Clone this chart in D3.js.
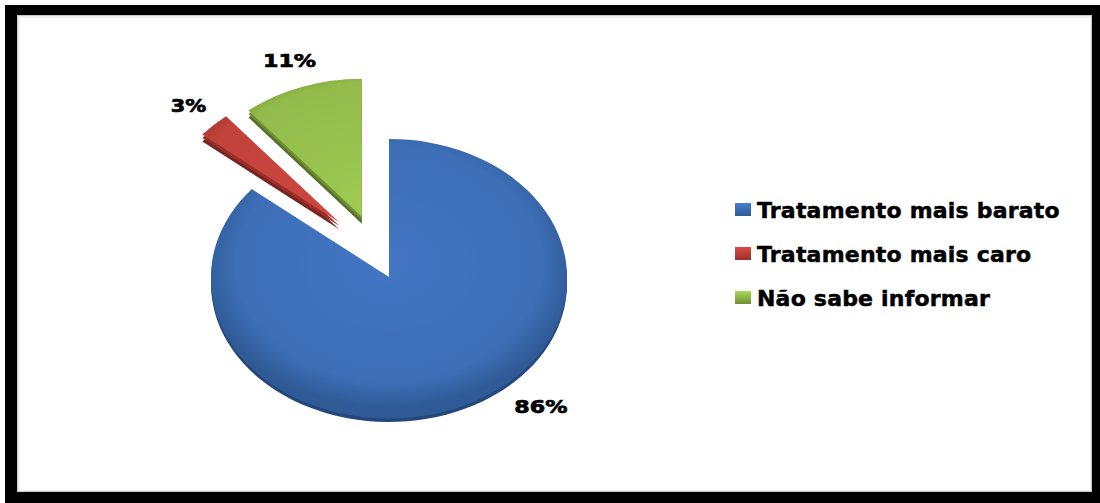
<!DOCTYPE html>
<html>
<head>
<meta charset="utf-8">
<script src="https://cdn.jsdelivr.net/npm/d3@7"></script>
<style>
  html, body { margin: 0; padding: 0; background: #fff; }
  svg { display: block; }
</style>
</head>
<body>
<svg id="chart" width="1100" height="503"></svg>
<script>
// Chart data
const categories = ["Tratamento mais barato", "Tratamento mais caro", "Não sabe informar"];
const values = [86, 3, 11];
const valueLabels = ["86%", "3%", "11%"];

// Styling
const topColors  = ["#3d6eb6", "#c0423b", "#93bb4c"];
const edgeColors = ["#2f5a96", "#9a2f2a", "#6f8f33"];
const sideColors = ["#24487c", "#7a2420", "#55702a"];
const explode    = [0, 70, 80];        // pull-out distance of each slice
const explodeY   = [0.8, 1.1, 0.8];    // vertical share of the pull-out (perspective)
const labelTurn  = [-17, 0, 0];        // label angle adjustment in degrees
const labelDist  = [1.27, 1.2, 1.2];   // label distance as a share of the radius

const W = 1100, H = 503;
const svg = d3.select("#chart");

// Frame
svg.append("rect").attr("x", 5).attr("y", 5).attr("width", W - 5).attr("height", H - 5).attr("fill", "#000");
svg.append("rect").attr("x", 17).attr("y", 15).attr("width", 1075).attr("height", 477).attr("fill", "#c8c8c8");
svg.append("rect").attr("x", 18).attr("y", 16).attr("width", 1073).attr("height", 475).attr("fill", "#f0f0f0");
svg.append("rect").attr("x", 20).attr("y", 18).attr("width", 1070).attr("height", 472).attr("fill", "#fff");

const defs = svg.append("defs");

// Pie geometry: flattened ellipse to suggest the 3D tilt
const cx = 389, cy = 277, R = 178, tilt = 138 / 178, depth = 7;

const pie = d3.pie().sort(null).value(d => d).startAngle(0).endAngle(2 * Math.PI);
const arcs = pie(values);
const arc = d3.arc().innerRadius(0).outerRadius(R);

arcs.forEach((a, i) => {
  const g = defs.append("radialGradient").attr("id", "grad" + i)
    .attr("gradientUnits", "userSpaceOnUse")
    .attr("cx", 0).attr("cy", -R * 0.1).attr("r", R * 1.05);
  g.append("stop").attr("offset", "0%").attr("stop-color", d3.color(topColors[i]).brighter(0.2));
  g.append("stop").attr("offset", "82%").attr("stop-color", topColors[i]);
  g.append("stop").attr("offset", "100%").attr("stop-color", edgeColors[i]);
});

const offsetOf = (a, i) => {
  const mid = (a.startAngle + a.endAngle) / 2;
  return [Math.sin(mid) * explode[i], -Math.cos(mid) * explode[i] * explodeY[i]];
};

// Side walls first, then top faces
const sides = svg.append("g");
const tops = svg.append("g");

arcs.forEach((a, i) => {
  const [ox, oy] = offsetOf(a, i);
  sides.append("path")
    .attr("transform", `translate(${cx + ox},${cy + oy + depth}) scale(1,${tilt})`)
    .attr("d", arc(a))
    .attr("fill", sideColors[i]);
  sides.append("path")
    .attr("transform", `translate(${cx + ox},${cy + oy + depth / 2}) scale(1,${tilt})`)
    .attr("d", arc(a))
    .attr("fill", edgeColors[i]);
  tops.append("path")
    .attr("transform", `translate(${cx + ox},${cy + oy}) scale(1,${tilt})`)
    .attr("d", arc(a))
    .attr("fill", `url(#grad${i})`);
});

// Value labels
const labelG = svg.append("g")
  .attr("font-family", "'DejaVu Sans', Verdana, sans-serif")
  .attr("font-weight", "bold")
  .attr("font-size", 18)
  .attr("fill", "#000");

arcs.forEach((a, i) => {
  const [ox, oy] = offsetOf(a, i);
  const mid = (a.startAngle + a.endAngle) / 2 + labelTurn[i] * Math.PI / 180;
  const r = R * labelDist[i];
  const x = cx + ox + Math.sin(mid) * r;
  const y = cy + oy - Math.cos(mid) * r * tilt;
  labelG.append("text")
    .attr("x", x).attr("y", y)
    .attr("text-anchor", "middle")
    .attr("dominant-baseline", "central")
    .attr("textLength", valueLabels[i].length * 17.7)
    .attr("lengthAdjust", "spacingAndGlyphs")
    .attr("stroke", "#000").attr("stroke-width", 0.7)
    .text(valueLabels[i]);
});

// Legend
const legend = svg.append("g").attr("transform", "translate(735,203)");
const rowGap = 44;
categories.forEach((c, i) => {
  const row = legend.append("g").attr("transform", `translate(0,${i * rowGap})`);
  const lg = defs.append("linearGradient").attr("id", "lg" + i)
    .attr("x1", 0).attr("y1", 0).attr("x2", 0).attr("y2", 1);
  lg.append("stop").attr("offset", "0%").attr("stop-color", d3.color(topColors[i]).brighter(0.4));
  lg.append("stop").attr("offset", "100%").attr("stop-color", edgeColors[i]);
  row.append("rect").attr("x", 0).attr("y", 0).attr("width", 16).attr("height", 13)
    .attr("fill", `url(#lg${i})`);
  row.append("text")
    .attr("x", 22).attr("y", 15)
    .attr("font-family", "'DejaVu Sans', Verdana, sans-serif")
    .attr("font-weight", "bold")
    .attr("font-size", 22)
    .attr("letter-spacing", 0.2)
    .attr("stroke", "#000").attr("stroke-width", 0.5)
    .attr("fill", "#000")
    .text(c);
});
</script>
</body>
</html>
